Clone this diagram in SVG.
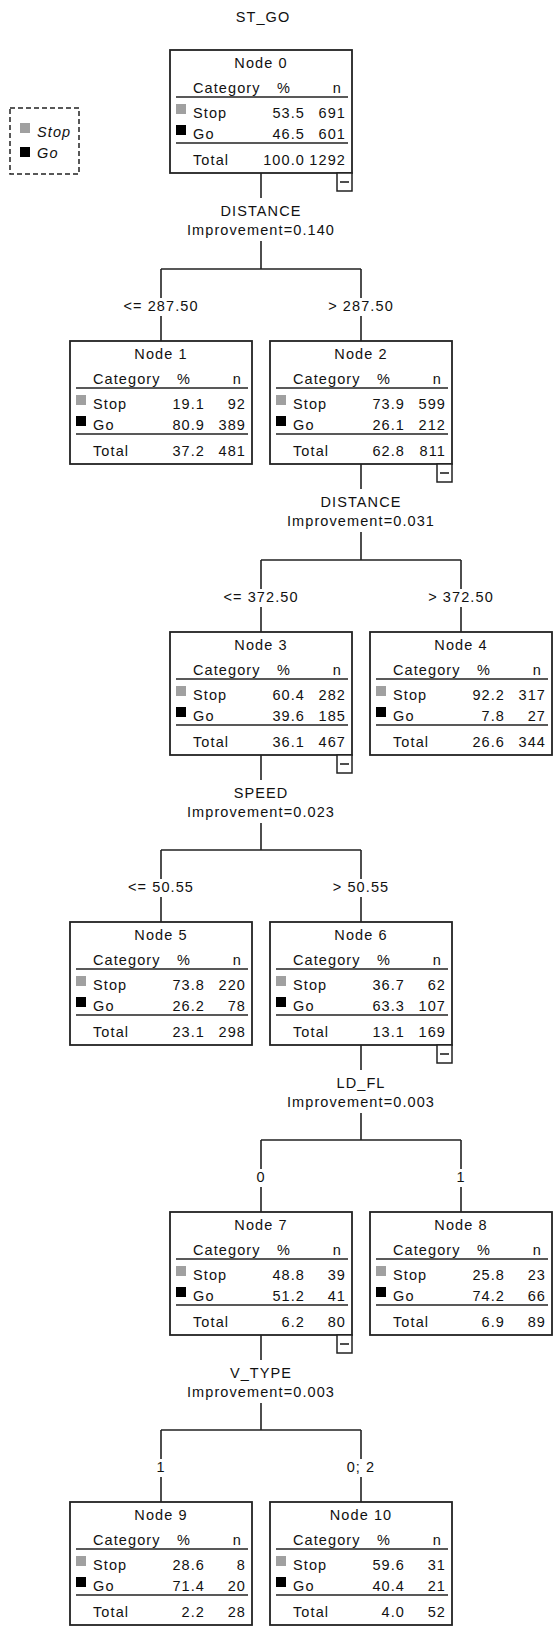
<svg xmlns="http://www.w3.org/2000/svg" width="555" height="1627" viewBox="0 0 555 1627">
<style>
text{font-family:"Liberation Sans",Arial,sans-serif;font-size:14.5px;letter-spacing:1.1px;fill:#111}
.m{text-anchor:middle}
.e{text-anchor:end}
.box{fill:#fff;stroke:#222;stroke-width:1.8}
.ln{stroke:#222;stroke-width:1.6;fill:none}
.gr{fill:#a0a0a0}
.bk{fill:#000}
.ic{fill:#fff;stroke:#222;stroke-width:1.5}
</style>
<defs>
<g id="tbl">
<rect class="box" x="0" y="0" width="182" height="123"/>
<text x="23" y="43">Category</text>
<text class="m" x="114" y="43">%</text>
<text class="e" x="172" y="43">n</text>
<line class="ln" x1="6" y1="47" x2="178" y2="47"/>
<rect class="gr" x="6" y="54" width="10" height="10"/>
<text x="23" y="68">Stop</text>
<rect class="bk" x="6" y="75" width="10" height="10"/>
<text x="23" y="89">Go</text>
<line class="ln" x1="6" y1="93" x2="178" y2="93"/>
<text x="23" y="115">Total</text>
</g>
<g id="icon">
<rect class="ic" x="167" y="123" width="15" height="18"/>
<line class="ln" x1="170" y1="132" x2="179" y2="132"/>
</g>
</defs>

<text class="m" x="263" y="22">ST_GO</text>

<g id="legend">
<rect x="10" y="108" width="69" height="66" fill="none" stroke="#222" stroke-width="1.5" stroke-dasharray="5,3"/>
<rect class="gr" x="20" y="123" width="10" height="10"/>
<text x="37" y="137" font-style="italic">Stop</text>
<rect class="bk" x="20" y="147" width="10" height="10"/>
<text x="37" y="158" font-style="italic">Go</text>
</g>

<g id="connectors">
<!-- split 1: Node0 (B=173, x=261) -> 161, 361 -->
<path class="ln" d="M261 173V198M261 241V269M161 269H361M161 269V298M361 269V298M161 316V341M361 316V341"/>
<text class="m" x="261" y="216">DISTANCE</text>
<text class="m" x="261" y="235">Improvement=0.140</text>
<text class="m" x="161" y="311">&lt;= 287.50</text>
<text class="m" x="361" y="311">&gt; 287.50</text>
<!-- split 2: Node2 (B=464, x=361) -> 261, 461 -->
<path class="ln" d="M361 464V489M361 532V560M261 560H461M261 560V589M461 560V589M261 607V632M461 607V632"/>
<text class="m" x="361" y="507">DISTANCE</text>
<text class="m" x="361" y="526">Improvement=0.031</text>
<text class="m" x="261" y="602">&lt;= 372.50</text>
<text class="m" x="461" y="602">&gt; 372.50</text>
<!-- split 3: Node3 (B=755, x=261) -> 161, 361 -->
<path class="ln" d="M261 755V780M261 823V850M161 850H361M161 850V879M361 850V879M161 897V922M361 897V922"/>
<text class="m" x="261" y="798">SPEED</text>
<text class="m" x="261" y="817">Improvement=0.023</text>
<text class="m" x="161" y="892">&lt;= 50.55</text>
<text class="m" x="361" y="892">&gt; 50.55</text>
<!-- split 4: Node6 (B=1045, x=361) -> 261, 461 -->
<path class="ln" d="M361 1045V1070M361 1113V1140M261 1140H461M261 1140V1169M461 1140V1169M261 1187V1212M461 1187V1212"/>
<text class="m" x="361" y="1088">LD_FL</text>
<text class="m" x="361" y="1107">Improvement=0.003</text>
<text class="m" x="261" y="1182">0</text>
<text class="m" x="461" y="1182">1</text>
<!-- split 5: Node7 (B=1335, x=261) -> 161, 361 -->
<path class="ln" d="M261 1335V1360M261 1403V1430M161 1430H361M161 1430V1459M361 1430V1459M161 1477V1502M361 1477V1502"/>
<text class="m" x="261" y="1378">V_TYPE</text>
<text class="m" x="261" y="1397">Improvement=0.003</text>
<text class="m" x="161" y="1472">1</text>
<text class="m" x="361" y="1472">0; 2</text>
</g>

<g id="node0" transform="translate(170,50)">
<use href="#tbl"/><use href="#icon"/>
<text class="m" x="91" y="18">Node 0</text>
<text class="e" x="135" y="68">53.5</text><text class="e" x="176" y="68">691</text>
<text class="e" x="135" y="89">46.5</text><text class="e" x="176" y="89">601</text>
<text class="e" x="135" y="115">100.0</text><text class="e" x="176" y="115">1292</text>
</g>

<g id="node1" transform="translate(70,341)">
<use href="#tbl"/>
<text class="m" x="91" y="18">Node 1</text>
<text class="e" x="135" y="68">19.1</text><text class="e" x="176" y="68">92</text>
<text class="e" x="135" y="89">80.9</text><text class="e" x="176" y="89">389</text>
<text class="e" x="135" y="115">37.2</text><text class="e" x="176" y="115">481</text>
</g>

<g id="node2" transform="translate(270,341)">
<use href="#tbl"/><use href="#icon"/>
<text class="m" x="91" y="18">Node 2</text>
<text class="e" x="135" y="68">73.9</text><text class="e" x="176" y="68">599</text>
<text class="e" x="135" y="89">26.1</text><text class="e" x="176" y="89">212</text>
<text class="e" x="135" y="115">62.8</text><text class="e" x="176" y="115">811</text>
</g>

<g id="node3" transform="translate(170,632)">
<use href="#tbl"/><use href="#icon"/>
<text class="m" x="91" y="18">Node 3</text>
<text class="e" x="135" y="68">60.4</text><text class="e" x="176" y="68">282</text>
<text class="e" x="135" y="89">39.6</text><text class="e" x="176" y="89">185</text>
<text class="e" x="135" y="115">36.1</text><text class="e" x="176" y="115">467</text>
</g>

<g id="node4" transform="translate(370,632)">
<use href="#tbl"/>
<text class="m" x="91" y="18">Node 4</text>
<text class="e" x="135" y="68">92.2</text><text class="e" x="176" y="68">317</text>
<text class="e" x="135" y="89">7.8</text><text class="e" x="176" y="89">27</text>
<text class="e" x="135" y="115">26.6</text><text class="e" x="176" y="115">344</text>
</g>

<g id="node5" transform="translate(70,922)">
<use href="#tbl"/>
<text class="m" x="91" y="18">Node 5</text>
<text class="e" x="135" y="68">73.8</text><text class="e" x="176" y="68">220</text>
<text class="e" x="135" y="89">26.2</text><text class="e" x="176" y="89">78</text>
<text class="e" x="135" y="115">23.1</text><text class="e" x="176" y="115">298</text>
</g>

<g id="node6" transform="translate(270,922)">
<use href="#tbl"/><use href="#icon"/>
<text class="m" x="91" y="18">Node 6</text>
<text class="e" x="135" y="68">36.7</text><text class="e" x="176" y="68">62</text>
<text class="e" x="135" y="89">63.3</text><text class="e" x="176" y="89">107</text>
<text class="e" x="135" y="115">13.1</text><text class="e" x="176" y="115">169</text>
</g>

<g id="node7" transform="translate(170,1212)">
<use href="#tbl"/><use href="#icon"/>
<text class="m" x="91" y="18">Node 7</text>
<text class="e" x="135" y="68">48.8</text><text class="e" x="176" y="68">39</text>
<text class="e" x="135" y="89">51.2</text><text class="e" x="176" y="89">41</text>
<text class="e" x="135" y="115">6.2</text><text class="e" x="176" y="115">80</text>
</g>

<g id="node8" transform="translate(370,1212)">
<use href="#tbl"/>
<text class="m" x="91" y="18">Node 8</text>
<text class="e" x="135" y="68">25.8</text><text class="e" x="176" y="68">23</text>
<text class="e" x="135" y="89">74.2</text><text class="e" x="176" y="89">66</text>
<text class="e" x="135" y="115">6.9</text><text class="e" x="176" y="115">89</text>
</g>

<g id="node9" transform="translate(70,1502)">
<use href="#tbl"/>
<text class="m" x="91" y="18">Node 9</text>
<text class="e" x="135" y="68">28.6</text><text class="e" x="176" y="68">8</text>
<text class="e" x="135" y="89">71.4</text><text class="e" x="176" y="89">20</text>
<text class="e" x="135" y="115">2.2</text><text class="e" x="176" y="115">28</text>
</g>

<g id="node10" transform="translate(270,1502)">
<use href="#tbl"/>
<text class="m" x="91" y="18">Node 10</text>
<text class="e" x="135" y="68">59.6</text><text class="e" x="176" y="68">31</text>
<text class="e" x="135" y="89">40.4</text><text class="e" x="176" y="89">21</text>
<text class="e" x="135" y="115">4.0</text><text class="e" x="176" y="115">52</text>
</g>
</svg>
